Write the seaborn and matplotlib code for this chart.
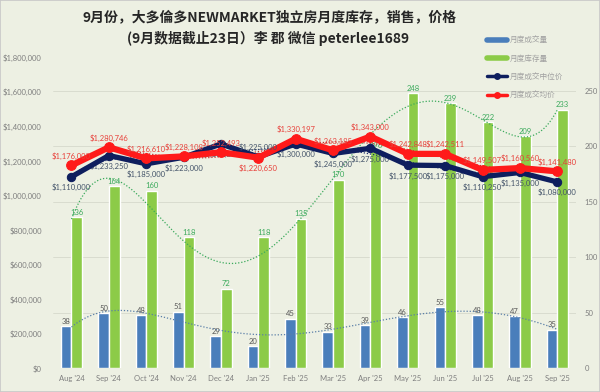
import numpy as np
import pandas as pd
import matplotlib
matplotlib.use('Agg')
import matplotlib.pyplot as plt
import seaborn as sns
from matplotlib.lines import Line2D
from matplotlib.patches import Rectangle
from matplotlib.ticker import FuncFormatter

# 数据
months = ["Aug '24", "Sep '24", "Oct '24", "Nov '24", "Dec '24", "Jan '25", "Feb '25",
          "Mar '25", "Apr '25", "May '25", "Jun '25", "Jul '25", "Aug '25", "Sep '25"]
sales = [38, 50, 48, 51, 29, 20, 45, 33, 39, 46, 55, 48, 47, 35]
inventory = [136, 164, 160, 118, 72, 118, 135, 170, 196, 248, 239, 222, 209, 233]
median_price = [1110000, 1233250, 1185000, 1223000, 1300000, 1225000, 1300000,
                1245000, 1275000, 1177500, 1175000, 1110250, 1135000, 1080000]
avg_price = [1176000, 1280746, 1216610, 1228108, 1252493, 1220650, 1330197,
             1263185, 1343000, 1242848, 1242511, 1149507, 1160560, 1141480]

bg = '#EDF0E3'
c_sales = '#4A7EBB'
c_inv = '#8CCB48'
c_med = '#0E1E5E'
c_avg = '#FF1A1A'

sns.set_theme(style='white')
plt.rcParams['font.family'] = ['Lato', 'Noto Sans CJK SC', 'DejaVu Sans']

fig = plt.figure(figsize=(6, 3.92), dpi=100, facecolor=bg)
ax = fig.add_axes([0.088, 0.06, 0.872, 0.793])
ax2 = ax.twinx()
ax.set_zorder(ax2.get_zorder() + 1)
ax.patch.set_visible(False)
ax2.patch.set_facecolor(bg)

# 柱状图（右轴）
df_bar = pd.DataFrame({'month': months * 2,
                       'value': sales + inventory,
                       'series': ['月度成交量'] * len(months) + ['月度库存量'] * len(months)})
sns.barplot(data=df_bar, x='month', y='value', hue='series', palette=[c_sales, c_inv],
            width=0.57, gap=0, saturation=1, legend=False, ax=ax2, zorder=2)
ax2.bar_label(ax2.containers[0], labels=[str(v) for v in sales], padding=1,
              fontsize=5.5, color='#595959')
ax2.bar_label(ax2.containers[1], labels=[str(v) for v in inventory], padding=1,
              fontsize=5.5, color='#3BAA5C')

x = np.arange(len(months))
xs = np.linspace(0, len(months) - 1, 200)

# 趋势线
for vals, col, a in [(inventory, '#3BAA5C', ax2), (sales, '#5A7FA8', ax2)]:
    p = np.polyfit(x, vals, 6)
    a.plot(xs, np.polyval(p, xs), color=col, lw=0.9, ls=(0, (1, 1.5)), zorder=3)
for vals, col in [(median_price, '#1F2F6F'), (avg_price, '#C03030')]:
    p = np.polyfit(x, vals, 6)
    ax.plot(xs, np.polyval(p, xs), color=col, lw=0.9, ls=(0, (1, 1.5)), zorder=1)

# 价格线（左轴）
sns.lineplot(x=x, y=median_price, ax=ax, color=c_med, lw=3.8, marker='o',
             markersize=6, markeredgecolor=c_med, zorder=3)
sns.lineplot(x=x, y=avg_price, ax=ax, color=c_avg, lw=4.5, marker='o',
             markersize=7, markeredgecolor=c_avg, zorder=4)

def money(v):
    return '$' + format(int(v), ',')

for i in range(len(months)):
    if i == 5:
        ax.annotate(money(median_price[i]), (i, median_price[i]), xytext=(0, 4),
                    textcoords='offset points', ha='center', va='bottom',
                    fontsize=5.5, color='#44546A', zorder=5)
        ax.annotate(money(avg_price[i]), (i, avg_price[i]), xytext=(0, -5),
                    textcoords='offset points', ha='center', va='top',
                    fontsize=5.5, color='#E8403A', zorder=5)
    else:
        ax.annotate(money(median_price[i]), (i, median_price[i]), xytext=(0, -5),
                    textcoords='offset points', ha='center', va='top',
                    fontsize=5.5, color='#44546A', zorder=2)
        ax.annotate(money(avg_price[i]), (i, avg_price[i]), xytext=(0, 4),
                    textcoords='offset points', ha='center', va='bottom',
                    fontsize=5.5, color='#E8403A', zorder=5)

# 坐标轴
ax.set_xlim(-0.5, len(months) - 0.5)
ax2.set_xlim(-0.5, len(months) - 0.5)
ax.set_ylim(0, 1800000)
ax.set_yticks(np.arange(0, 1800001, 200000))
ax.yaxis.set_major_formatter(FuncFormatter(lambda v, p: money(v)))
ax2.set_ylim(0, 280)
ax2.set_yticks(np.arange(0, 251, 50))
ax.set_xticks(x, months)
ax.set_xlabel('')
ax2.set_xlabel('')
ax2.set_ylabel('')
ax.tick_params(axis='both', length=0, labelsize=5.5, labelcolor='#7F7F7F')
ax.tick_params(axis='y', pad=8)
ax.tick_params(axis='x', pad=5)
ax2.tick_params(axis='y', length=0, labelsize=5.5, labelcolor='#7F7F7F', pad=6)
ax2.yaxis.grid(True, color='#D6D9CC', lw=0.6)
ax2.set_axisbelow(True)
for a in (ax, ax2):
    for s in a.spines.values():
        s.set_visible(False)

# 标题
fig.text(0.45, 0.955, '9月份，大多倫多NEWMARKET独立房月度库存，销售，价格', ha='center', va='center',
         fontsize=10, fontweight='bold', family=['Noto Sans CJK SC', 'DejaVu Sans'])
fig.text(0.447, 0.902, '(9月数据截止23日）李 郡 微信 peterlee1689', ha='center', va='center',
         fontsize=10, fontweight='bold', family=['Noto Sans CJK SC', 'DejaVu Sans'])

# 图例
handles = [Line2D([], [], color=c_sales, lw=4),
           Line2D([], [], color=c_inv, lw=4),
           Line2D([], [], color=c_med, lw=2.5, marker='o', markersize=4),
           Line2D([], [], color=c_avg, lw=2.5, marker='o', markersize=4)]
labels = ['月度成交量', '月度库存量', '月度成交中位价', '月度成交均价']
fig.legend(handles, labels, loc='upper left', bbox_to_anchor=(0.8, 0.925), frameon=False,
           fontsize=5.5, labelcolor='#A0A0A0', handlelength=2.6, labelspacing=1.35,
           handletextpad=0.4, prop={'family': ['Noto Sans CJK SC', 'DejaVu Sans'], 'size': 5.5})

fig.patches.append(Rectangle((0, 0), 1, 1, transform=fig.transFigure, fill=False,
                             ec='#C8C8C8', lw=1.2))

fig.savefig('out.png', dpi=100, facecolor=fig.get_facecolor())
